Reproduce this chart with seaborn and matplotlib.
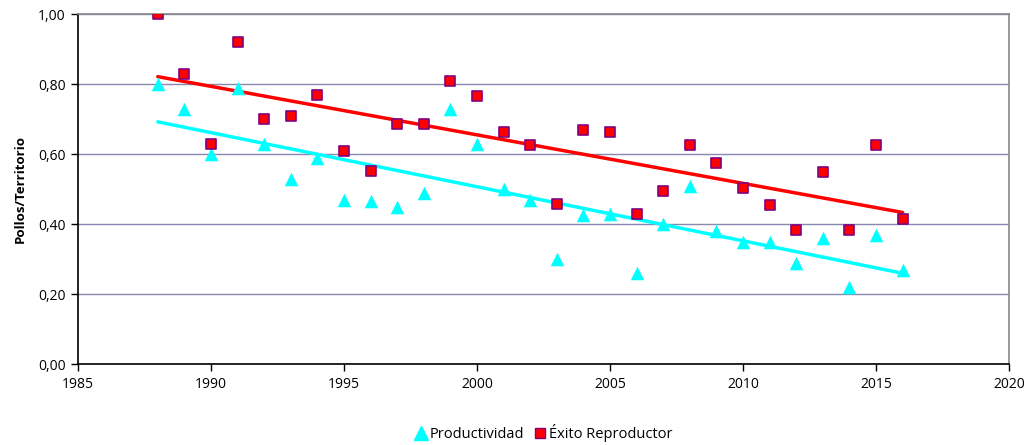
import numpy as np
import pandas as pd
import matplotlib.pyplot as plt
from matplotlib.lines import Line2D
import seaborn as sns

sns.set_style("white")
plt.rcParams['font.family'] = ['Open Sans', 'DejaVu Sans']
plt.rcParams.update({'text.color': 'black', 'axes.labelcolor': 'black',
                     'xtick.color': 'black', 'ytick.color': 'black'})

years = list(range(1988, 2017))
productividad = [0.80, 0.73, 0.60, 0.79, 0.63, 0.53, 0.59, 0.47, 0.466, 0.45,
                 0.49, 0.73, 0.63, 0.50, 0.47, 0.30, 0.425, 0.43, 0.26, 0.40,
                 0.51, 0.38, 0.35, 0.35, 0.29, 0.36, 0.22, 0.37, 0.27]
exito = [1.00, 0.83, 0.63, 0.92, 0.70, 0.71, 0.77, 0.61, 0.55, 0.686,
         0.686, 0.81, 0.766, 0.663, 0.626, 0.457, 0.669, 0.663, 0.43, 0.494,
         0.626, 0.574, 0.503, 0.454, 0.383, 0.549, 0.383, 0.626, 0.414]

df = pd.DataFrame({'year': years, 'prod': productividad, 'exito': exito})

fig = plt.figure(figsize=(10.3, 4.45), dpi=100)
ax = fig.add_axes([78 / 1030, 1 - 364 / 445, (1009 - 78) / 1030, 350 / 445])

# trend lines (least squares, like Excel)
sns.regplot(data=df, x='year', y='prod', scatter=False, ci=None, truncate=True,
            line_kws={'color': '#00FFFF', 'lw': 2.5, 'zorder': 2}, ax=ax)
sns.regplot(data=df, x='year', y='exito', scatter=False, ci=None, truncate=True,
            line_kws={'color': '#FF0000', 'lw': 2.5, 'zorder': 2}, ax=ax)

sns.scatterplot(data=df, x='year', y='prod', marker='^', s=95, color='#00FFFF',
                edgecolor='#00FFFF', linewidth=0, ax=ax, zorder=3)
sns.scatterplot(data=df, x='year', y='exito', marker='s', s=52, color='#FF0000',
                edgecolor='#800080', linewidth=1.2, ax=ax, zorder=4)

ax.set_xlim(1985, 2020)
ax.set_ylim(0, 1.0)
ax.set_xticks(range(1985, 2021, 5))
ax.set_yticks(np.arange(0, 1.01, 0.2))
ax.set_yticklabels([f"{v:.2f}".replace('.', ',') for v in np.arange(0, 1.01, 0.2)])
ax.yaxis.grid(True, color='#8888B0', lw=1)
ax.set_axisbelow(True)
ax.tick_params(axis='both', direction='out', length=5, width=1, color='black',
               labelsize=10, bottom=True, left=True, pad=4)
for side in ['left', 'bottom']:
    ax.spines[side].set_color('black')
    ax.spines[side].set_linewidth(1.2)
for side in ['top', 'right']:
    ax.spines[side].set_color('#888888')
    ax.spines[side].set_linewidth(1.2)
ax.set_xlabel('')
ax.set_ylabel('Pollos/Territorio', fontsize=9.5, fontweight='bold', labelpad=8)

handles = [Line2D([], [], marker='^', ls='none', color='#00FFFF', markersize=10),
           Line2D([], [], marker='s', ls='none', markerfacecolor='#FF0000',
                  markeredgecolor='#800080', markersize=7)]
fig.legend(handles, ['Productividad', 'Éxito Reproductor'], loc='center',
           bbox_to_anchor=(542 / 1030, 1 - 433 / 445), ncol=2, frameon=False,
           fontsize=10.5, handletextpad=0.0, columnspacing=0.5, handlelength=1.2)

fig.savefig('out.png', dpi=100)
